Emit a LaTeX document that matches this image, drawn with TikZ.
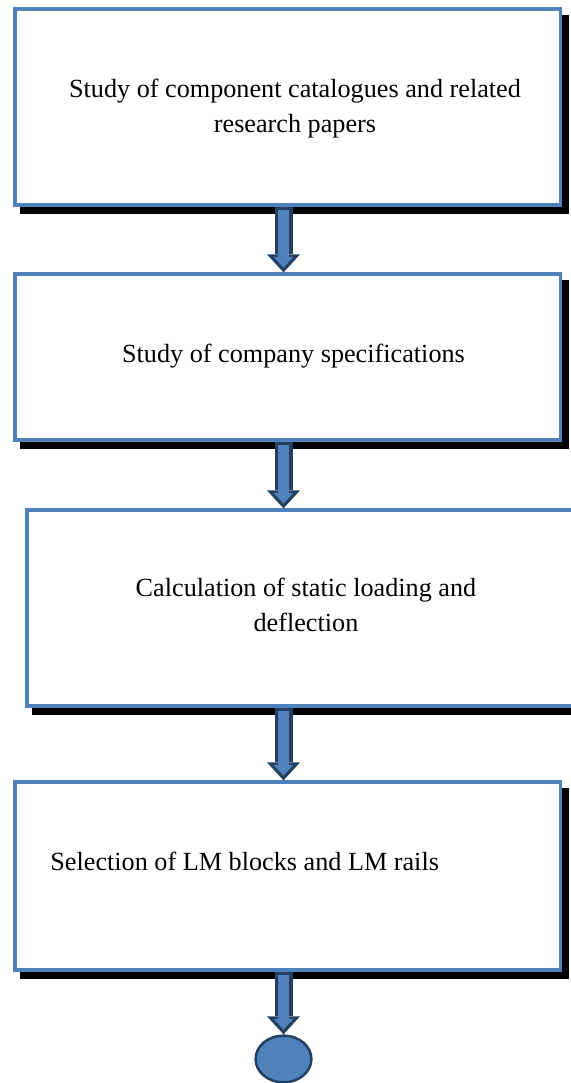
\documentclass[tikz,border=0pt]{standalone}
\usepackage{fontspec}
\setmainfont{Liberation Serif}
\usetikzlibrary{arrows.meta,shadows,shapes.geometric}
\definecolor{boxblue}{HTML}{4F81BD}
\definecolor{arrowdark}{HTML}{243F60}
\tikzset{
  stagebox/.style={draw=boxblue, line width=1.6pt, fill=white, minimum width=272.75pt, inner sep=0pt,
    general shadow={shadow xshift=3.2pt, shadow yshift=-3.8pt, fill=black, draw=black}},
  stagetext/.style={font=\fontsize{13.1pt}{17.5pt}\selectfont, inner sep=0pt, align=center},
  arrowouter/.style={draw=arrowdark, line width=9pt, -{Triangle[width=16.5pt,length=9pt,line width=0pt]}},
  arrowinner/.style={draw=boxblue, line width=5.5pt, shorten <=1.75pt, shorten >=2.4pt,
    -{Triangle[width=10pt,length=5.4pt,line width=0pt]}},
}
\newcommand{\stagearrow}[2]{%
  \draw[arrowouter] (#1) -- (#2);
  \draw[arrowinner] (#1) -- (#2);}
\begin{document}
\begin{tikzpicture}[x=0.5pt, y=-0.5pt]
    \useasboundingbox (0,0) rectangle (571,1083);

    % Boxes
    \node[stagebox, minimum height=98pt] (b1) at (287.75,107) {};
    \node[stagebox, minimum height=83pt] (b2) at (287.75,357) {};
    \node[stagebox, minimum height=98pt] (b3) at (299.75,608) {};
    \node[stagebox, minimum height=94pt] (b4) at (287.75,876) {};

    % Texts
    \node[stagetext] (t1) at (295,108.35) {Study of component catalogues and related\\research papers};
    \node[stagetext, anchor=base] (t2) at (293.5,362) {Study of company specifications};
    \node[stagetext] (t3) at (306,604.7) {Calculation of static loading and\\deflection};
    \node[stagetext, anchor=base west] (t4) at (50,870) {Selection of LM blocks and LM rails};

    % End marker
    \node[ellipse, draw=arrowdark, fill=boxblue, line width=1.25pt, minimum width=27.9pt,
          minimum height=23.4pt, inner sep=0pt] (endc) at (283.5,1059) {};

    % Arrows
    \coordinate (axis) at (283.5,0);
    \stagearrow{b1.south -| axis}{b2.north -| axis}
    \stagearrow{b2.south -| axis}{b3.north -| axis}
    \stagearrow{b3.south -| axis}{b4.north -| axis}
    \stagearrow{b4.south -| axis}{endc.north}
\end{tikzpicture}
\end{document}
